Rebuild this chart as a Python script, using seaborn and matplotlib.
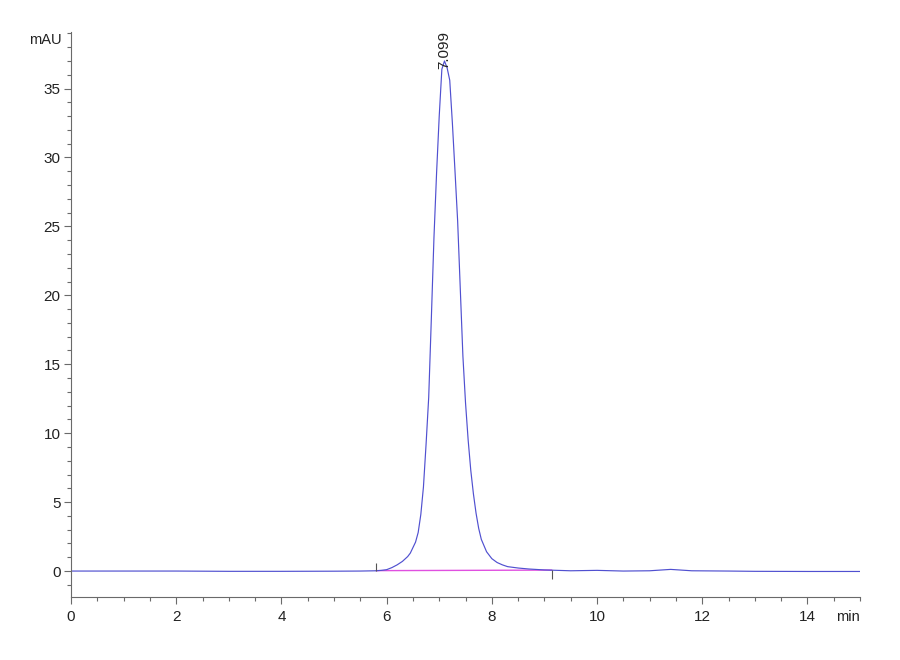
import matplotlib
matplotlib.use("Agg")
import matplotlib.pyplot as plt
from matplotlib.ticker import MultipleLocator
import pandas as pd
import seaborn as sns

# chromatogram trace (min, mAU)
time_min = [0, 1, 2, 3, 4, 5, 5.5, 5.8, 5.9, 6.0, 6.1, 6.2, 6.3, 6.4, 6.45, 6.5,
            6.55, 6.6, 6.65, 6.7, 6.75, 6.8, 6.85, 6.9, 6.95, 7.0, 7.05, 7.1,
            7.15, 7.2, 7.25, 7.3, 7.35, 7.4, 7.45, 7.5, 7.55, 7.6, 7.65, 7.7,
            7.75, 7.8, 7.9, 8.0, 8.1, 8.2, 8.3, 8.5, 8.7, 9.0, 9.5, 10.0, 10.5,
            11.0, 11.4, 11.8, 12.5, 13.0, 14.0, 15.0]
signal_mau = [0.0, 0.0, 0.0, -0.02, -0.02, -0.01, 0.0, 0.02, 0.05, 0.1, 0.25,
              0.45, 0.7, 1.05, 1.3, 1.7, 2.1, 2.8, 4.1, 6.1, 9.2, 12.6, 18.3,
              24.2, 28.9, 33.0, 36.4, 37.0, 36.5, 35.6, 32.5, 29.0, 25.4, 20.5,
              15.6, 12.2, 9.5, 7.3, 5.6, 4.2, 3.1, 2.3, 1.4, 0.9, 0.62, 0.45,
              0.32, 0.22, 0.15, 0.08, 0.02, 0.05, 0.0, 0.02, 0.12, 0.02, 0.0,
              -0.02, -0.03, -0.03]

# integration baseline of the peak
base_time = [5.8, 9.14]
base_mau = [0.03, 0.07]

peak_rt = 7.099
peak_top = 37.0

trace = pd.DataFrame({"time": time_min, "signal": signal_mau})
base = pd.DataFrame({"time": base_time, "signal": base_mau})

sns.set_style("ticks")
plt.rcParams["font.family"] = ["Liberation Sans Narrow", "Liberation Sans", "DejaVu Sans"]

axis_col = "#6a6a6a"
fig = plt.figure(figsize=(9, 6.6), dpi=100)
ax = fig.add_axes([0.0789, 0.0955, 0.8767, 0.856])

sns.lineplot(data=base, x="time", y="signal", color="#e050e0", linewidth=1.0,
             sort=False, estimator=None, ax=ax)
sns.lineplot(data=trace, x="time", y="signal", color="#5050d0", linewidth=0.85,
             sort=False, estimator=None, ax=ax)

# baseline start / end marks
ax.scatter(base_time[:1], base_mau[:1], marker=2, s=30, color="#555555", linewidths=0.8, zorder=3)
ax.scatter(base_time[1:], base_mau[1:], marker=3, s=40, color="#555555", linewidths=0.8, zorder=3)

ax.text(peak_rt, peak_top - 0.6, f"{peak_rt:.3f}", rotation=90, ha="center", va="bottom",
        fontsize=11, family=["Liberation Sans", "DejaVu Sans"], color="#222222")

ax.set_xlim(0, 15)
ax.set_ylim(-1.88, 39.1)
ax.xaxis.set_major_locator(MultipleLocator(2))
ax.xaxis.set_minor_locator(MultipleLocator(0.5))
ax.yaxis.set_major_locator(MultipleLocator(5))
ax.yaxis.set_minor_locator(MultipleLocator(1))
ax.tick_params(which="major", length=5, width=0.8, color=axis_col, labelsize=11,
               labelcolor="#222222", pad=2.5)
ax.tick_params(axis="x", which="major", pad=4.5)
ax.tick_params(which="minor", length=3, width=0.8, color=axis_col)
ax.set_xlabel("")
ax.set_ylabel("")
sns.despine(ax=ax)
for side in ["left", "bottom"]:
    ax.spines[side].set_color(axis_col)
    ax.spines[side].set_linewidth(0.8)

ax.annotate("mAU", xy=(0, 38.5), xycoords=("axes fraction", "data"), xytext=(-6.5, 0),
            textcoords="offset points", ha="right", va="center", fontsize=10.5, color="#222222")
ax.annotate("min", xy=(1, 0), xycoords="axes fraction", xytext=(0, -9.5),
            textcoords="offset points", ha="right", va="top", fontsize=10.5, color="#222222")

fig.savefig("out.png", dpi=100)
